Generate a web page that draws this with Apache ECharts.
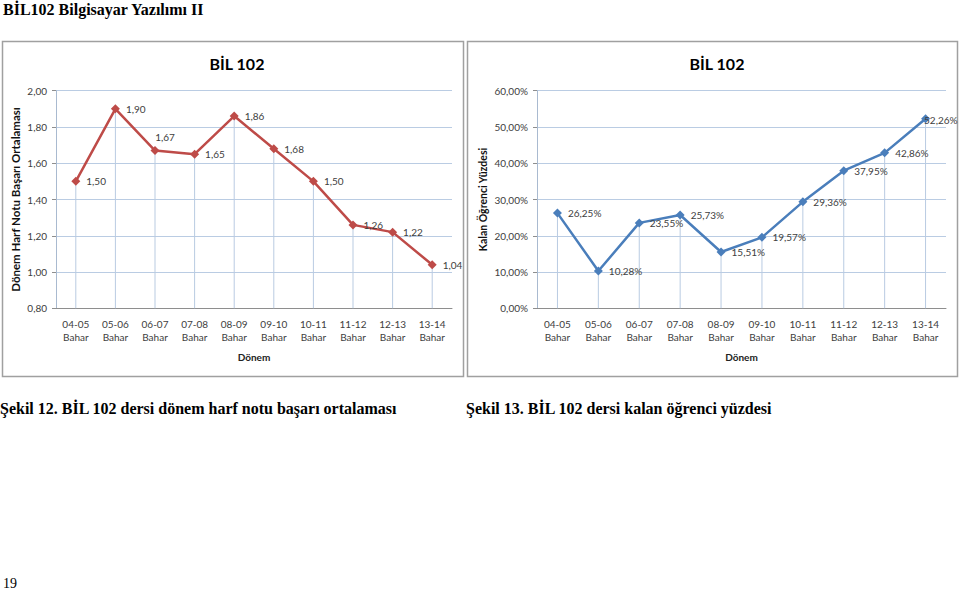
<!DOCTYPE html>
<html>
<head>
<meta charset="utf-8">
<script src="https://cdn.jsdelivr.net/npm/echarts@6/dist/echarts.min.js"></script>
<style>
  html, body { margin: 0; padding: 0; background: #fff; }
  #page { position: relative; width: 959px; height: 592px; overflow: hidden; }
  #chart { position: absolute; left: 0; top: 0; width: 959px; height: 592px; }
  .txt { position: absolute; font-family: "Liberation Serif", "DejaVu Serif", serif; color: #000; white-space: nowrap; }
  .b { font-weight: bold; }
</style>
</head>
<body>
<div id="page">
  <div id="chart"></div>
  <div class="txt b" style="left:3px; top:1px; font-size:16px;">BİL102 Bilgisayar Yazılımı II</div>
  <div class="txt b" style="left:0px; top:400px; font-size:16px;">Şekil 12. BİL 102 dersi dönem harf notu başarı ortalaması</div>
  <div class="txt b" style="left:466px; top:400px; font-size:16px;">Şekil 13. BİL 102 dersi kalan öğrenci yüzdesi</div>
  <div class="txt" style="left:3px; top:577px; font-size:14px; line-height:14px;">19</div>
</div>
<script>
// ---- data ----
const categories = ['04-05\nBahar', '05-06\nBahar', '06-07\nBahar', '07-08\nBahar', '08-09\nBahar',
                    '09-10\nBahar', '10-11\nBahar', '11-12\nBahar', '12-13\nBahar', '13-14\nBahar'];
const gpaValues = [1.50, 1.90, 1.67, 1.65, 1.86, 1.68, 1.50, 1.26, 1.22, 1.04];
const failValues = [26.25, 10.28, 23.55, 25.73, 15.51, 19.57, 29.36, 37.95, 42.86, 52.26];
const gpaTicks = { min: 0.8, max: 2.0, interval: 0.2 };
const failTicks = { min: 0, max: 60, interval: 10 };
const chartTitle = 'BİL 102';
const xName = 'Dönem';
const gpaAxisName = 'Dönem Harf Notu Başarı Ortalaması';
const failAxisName = 'Kalan Öğrenci Yüzdesi';

// ---- styling ----
const FONT = 'Lato, "Open Sans", sans-serif';
const fmtComma = v => v.toFixed(2).replace('.', ',');
const fmtPct = v => v.toFixed(2).replace('.', ',') + '%';
const gridColor = '#BACCE3';
const dropColor = '#B9CBE2';
const textColor = '#404040';

function xAxisCfg(gridIndex) {
  return {
    type: 'category', gridIndex, data: categories,
    name: xName, nameLocation: 'middle', nameGap: 44,
    nameTextStyle: { fontFamily: FONT, fontSize: 10, fontWeight: 'bold', color: '#222' },
    axisLine: { lineStyle: { color: '#8E8E8E', width: 1 } },
    axisTick: { show: false },
    axisLabel: { fontFamily: FONT, fontSize: 10, color: textColor, lineHeight: 13, margin: 9, interval: 0 },
    splitLine: { show: false }
  };
}
function yAxisCfg(gridIndex, ticks, fmt, name, gap, nameSize) {
  return {
    type: 'value', gridIndex, min: ticks.min, max: ticks.max, interval: ticks.interval,
    name, nameLocation: 'middle', nameGap: gap, nameRotate: 90,
    nameTextStyle: { fontFamily: FONT, fontSize: nameSize, fontWeight: 'bold', color: '#111' },
    axisLine: { show: true, lineStyle: { color: '#A9BAD0', width: 1 } },
    axisTick: { show: true, length: 4, lineStyle: { color: '#8E8E8E' } },
    axisLabel: { fontFamily: FONT, fontSize: 10, color: textColor, margin: 9, formatter: fmt },
    splitLine: { show: true, lineStyle: { color: gridColor, width: 1 } }
  };
}

function lineSeries(idx, values, color, fmt, overrides) {
  return {
    type: 'line', xAxisIndex: idx, yAxisIndex: idx, z: 5,
    data: values.map((v, i) => overrides[i] ? { value: v, label: overrides[i] } : v),
    symbol: 'diamond', symbolSize: 9,
    lineStyle: { color, width: 2.5 },
    itemStyle: { color },
    label: { show: true, position: 'right', distance: 6, fontFamily: FONT, fontSize: 10, color: textColor,
             formatter: p => fmt(p.value) },
    animation: false
  };
}
function dropSeries(idx, values) {
  return {
    type: 'bar', xAxisIndex: idx, yAxisIndex: idx, z: 1, barWidth: 1, silent: true,
    data: values, itemStyle: { color: dropColor }, animation: false, clip: true
  };
}

const chart = echarts.init(document.getElementById('chart'), null, { renderer: 'svg' });
chart.setOption({
  animation: false,
  backgroundColor: 'transparent',
  title: [
    { text: chartTitle, left: 232, top: 50, textAlign: 'center',
      textStyle: { fontFamily: FONT, fontSize: 16, fontWeight: 'bold', color: '#000' } },
    { text: chartTitle, left: 712, top: 50, textAlign: 'center',
      textStyle: { fontFamily: FONT, fontSize: 16, fontWeight: 'bold', color: '#000' } }
  ],
  graphic: [
    { type: 'rect', shape: { x: 2.5, y: 41.5, width: 461, height: 335 }, style: { fill: 'none', stroke: '#A0A0A0', lineWidth: 1.5 }, z: -1 },
    { type: 'rect', shape: { x: 467.5, y: 41.5, width: 490, height: 335 }, style: { fill: 'none', stroke: '#A0A0A0', lineWidth: 1.5 }, z: -1 }
  ],
  grid: [
    { left: 56, right: 959 - 452, top: 90.7, bottom: 592 - 308.3, containLabel: false },
    { left: 537, right: 959 - 946, top: 90.7, bottom: 592 - 308.3, containLabel: false }
  ],
  xAxis: [xAxisCfg(0), xAxisCfg(1)],
  yAxis: [
    yAxisCfg(0, gpaTicks, fmtComma, gpaAxisName, 35, 11.5),
    yAxisCfg(1, failTicks, v => fmtPct(v), failAxisName, 49, 10.5)
  ],
  series: [
    dropSeries(0, gpaValues),
    lineSeries(0, gpaValues, '#BE4B48', fmtComma, { 2: { position: 'top', distance: 4, offset: [10, 0] } }),
    dropSeries(1, failValues),
    lineSeries(1, failValues, '#4A7EBB', fmtPct, { 9: { offset: [-12, 1] } })
  ]
});
</script>
</body>
</html>
